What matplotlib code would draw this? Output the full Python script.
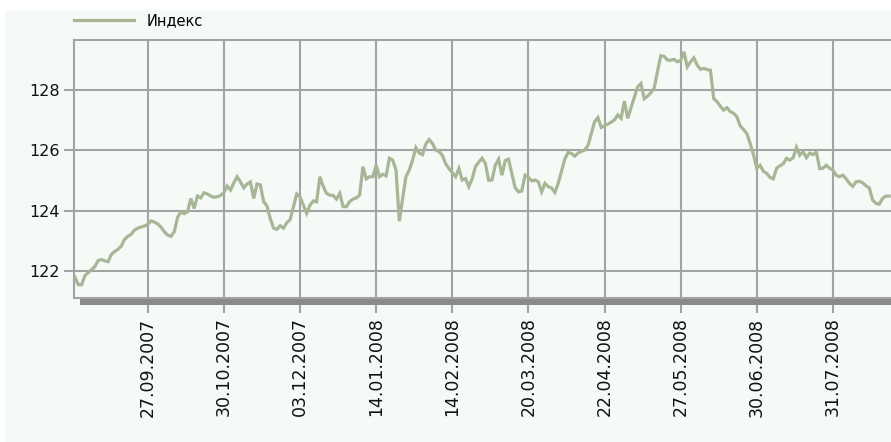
"""
Line chart of the index, Sep 2007 - Aug 2008, daily points on an even index axis.
"""

import matplotlib
matplotlib.use("Agg")
import matplotlib.pyplot as plt
from matplotlib.patches import Rectangle

# daily index values, one per trading day
index_values = [
    121.80, 121.55, 121.55, 121.85, 121.95, 122.05, 122.15, 122.35, 122.38, 122.34,
    122.31, 122.55, 122.65, 122.72, 122.83, 123.05, 123.15, 123.22, 123.36, 123.42,
    123.46, 123.49, 123.55, 123.66, 123.62, 123.56, 123.45, 123.30, 123.19, 123.15,
    123.30, 123.78, 123.95, 123.90, 123.96, 124.40, 124.07, 124.48, 124.42, 124.59,
    124.55, 124.48, 124.44, 124.46, 124.50, 124.60, 124.81, 124.68, 124.92, 125.12,
    124.95, 124.75, 124.88, 124.95, 124.40, 124.88, 124.85, 124.30, 124.15, 123.74,
    123.42, 123.38, 123.50, 123.42, 123.60, 123.70, 124.13, 124.55, 124.45, 124.18,
    123.91, 124.18, 124.32, 124.29, 125.12, 124.80, 124.57, 124.51, 124.50, 124.38,
    124.57, 124.13, 124.13, 124.30, 124.38, 124.42, 124.51, 125.45, 125.05, 125.12,
    125.12, 125.50, 125.12, 125.20, 125.15, 125.73, 125.67, 125.34, 123.65, 124.40,
    125.12, 125.34, 125.67, 126.08, 125.90, 125.85, 126.20, 126.35, 126.22, 126.00,
    125.95, 125.83, 125.55, 125.39, 125.25, 125.12, 125.39, 125.01, 125.06, 124.79,
    125.05, 125.45, 125.60, 125.73, 125.56, 125.00, 125.01, 125.50, 125.70, 125.17,
    125.65, 125.70, 125.23, 124.75, 124.62, 124.65, 125.17, 125.10, 124.98, 125.01,
    124.95, 124.62, 124.90, 124.79, 124.75, 124.60, 124.90, 125.30, 125.70, 125.92,
    125.89, 125.80, 125.90, 125.96, 126.00, 126.15, 126.55, 126.94, 127.08, 126.75,
    126.80, 126.86, 126.92, 127.00, 127.16, 127.05, 127.62, 127.05, 127.40, 127.75,
    128.09, 128.20, 127.70, 127.78, 127.90, 128.05, 128.60, 129.12, 129.10, 128.98,
    128.97, 129.00, 128.92, 128.96, 129.25, 128.75, 128.92, 129.05, 128.81, 128.67,
    128.70, 128.66, 128.64, 127.70, 127.60, 127.45, 127.32, 127.40, 127.27, 127.22,
    127.10, 126.80, 126.68, 126.55, 126.22, 125.85, 125.40, 125.50, 125.30, 125.23,
    125.10, 125.05, 125.40, 125.48, 125.55, 125.73, 125.67, 125.75, 126.09, 125.83,
    125.95, 125.75, 125.90, 125.85, 125.94, 125.39, 125.40, 125.50, 125.40, 125.34,
    125.17, 125.12, 125.17, 125.05, 124.90, 124.80, 124.95, 124.97, 124.92, 124.82,
    124.75, 124.35, 124.24, 124.21, 124.40, 124.48, 124.48,
]

# labelled trading days (position in the series) and their dates
tick_positions = [22, 45, 68, 91, 114, 137, 160, 183, 206, 229]
tick_labels = ["27.09.2007", "30.10.2007", "03.12.2007", "14.01.2008",
               "14.02.2008", "20.03.2008", "22.04.2008", "27.05.2008",
               "30.06.2008", "31.07.2008"]
y_ticks = [122, 124, 126, 128]

series_name = "Индекс"

LINE_COLOR = "#a6b697"
GRID_COLOR = "#a3a3a3"
BG_COLOR = "#f6faf6"

W, H = 891, 442


def main():
    fig = plt.figure(figsize=(W / 100, H / 100), dpi=100)
    fig.patch.set_facecolor("white")
    # light tinted panel behind everything
    fig.patches.append(Rectangle((5 / W, 0), 1, 1 - 10 / H,
                                 transform=fig.transFigure,
                                 facecolor=BG_COLOR, edgecolor="none",
                                 zorder=-10))

    left, right = 74 / W, 909 / W
    bottom, top = 1 - 298 / H, 1 - 40 / H
    ax = fig.add_axes([left, bottom, right - left, top - bottom])
    ax.set_facecolor(BG_COLOR)

    x = list(range(len(index_values)))
    line, = ax.plot(x, index_values, color=LINE_COLOR, lw=2.3,
                    solid_joinstyle="miter", label=series_name, zorder=3)

    ax.set_xlim(-0.3, 252)
    ax.set_ylim(121.11, 129.64)

    ax.set_xticks(tick_positions)
    ax.set_xticklabels(tick_labels, rotation=90, fontsize=12.5,
                       family="DejaVu Sans", color="#111111", va="top")
    ax.set_yticks(y_ticks)
    ax.set_yticklabels([str(v) for v in y_ticks], fontsize=11.5,
                       family="DejaVu Sans", color="#111111")

    ax.grid(True, color=GRID_COLOR, lw=1.5, zorder=1)
    ax.set_axisbelow(True)
    ax.tick_params(axis="x", length=11, width=1.5, color=GRID_COLOR, pad=3)
    ax.tick_params(axis="y", length=7, width=1.5, color=GRID_COLOR, pad=3)

    for side in ["left", "top", "bottom"]:
        ax.spines[side].set_color(GRID_COLOR)
        ax.spines[side].set_linewidth(1.5)
    ax.spines["right"].set_visible(False)

    # dark shadow strip under the plot area
    ax.add_patch(Rectangle((80 / W, 1 - 305 / H), 1, 6 / H,
                           transform=fig.transFigure, facecolor="#8a8a8a",
                           edgecolor="none", clip_on=False, zorder=4))

    leg = ax.legend(handles=[line], loc="center left",
                    bbox_to_anchor=(74 / W, 1 - 21 / H),
                    bbox_transform=fig.transFigure, frameon=False,
                    handlelength=4.1, handletextpad=0.9,
                    borderpad=0, borderaxespad=0,
                    prop={"family": "DejaVu Sans", "size": 10.5})
    for t in leg.get_texts():
        t.set_color("#000000")

    fig.savefig("out.png", dpi=100, facecolor=fig.get_facecolor())


if __name__ == "__main__":
    main()
